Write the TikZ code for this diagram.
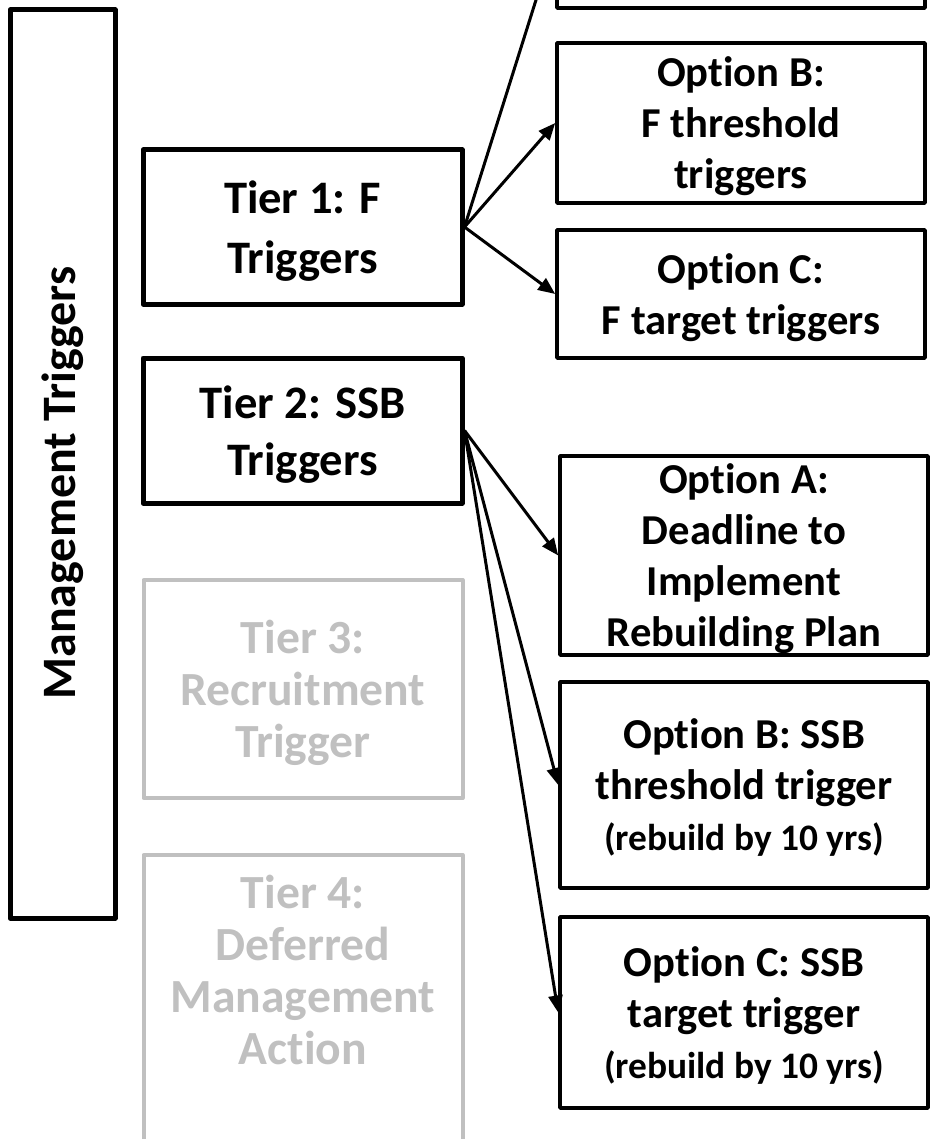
\documentclass[tikz,border=0pt]{standalone}
\usepackage{fontspec}
\setmainfont{Carlito}[Ligatures=NoCommon]
\usetikzlibrary{arrows.meta,positioning}
\definecolor{tiergrey}{RGB}{192,192,192}
\newcommand{\yrsnote}[1]{{\fontsize{18.7}{23}\selectfont #1}}

\begin{document}
\begin{tikzpicture}[x=0.5pt, y=-0.5pt,
  tierbox/.style={draw, line width=2.5pt, line join=round, inner sep=0pt, align=center,
    text depth=0pt, minimum width=159.5pt, font=\bfseries\fontsize{23.3}{28.5}\selectfont},
  greybox/.style={tierbox, draw=tiergrey, text=tiergrey, line width=2pt,
    font=\bfseries\fontsize{23.8}{26}\selectfont},
  optbox/.style={draw, line width=1.8pt, line join=round, inner sep=0pt, align=center,
    text depth=0pt, minimum width=184pt, font=\bfseries\fontsize{21.3}{25.5}\selectfont},
  arr/.style={-{Triangle[length=8.5pt, width=7pt]}, line width=1.5pt}]
  \useasboundingbox (0,0) rectangle (933,1139);
  \clip (0,0) rectangle (933,1139);

  % management column
  \node[tierbox, minimum width=52.5pt, minimum height=454pt] (mgmt) at (62.5,464) {};
  \node[rotate=90, font=\bfseries\fontsize{24}{29}\selectfont] (mgmtlabel) at (63,483) {Management Triggers};

  % tiers
  \node[tierbox, minimum height=77pt, font=\bfseries\fontsize{23.3}{30}\selectfont] (tier1) at (302.5,227) {Tier 1: F\\Triggers};
  \node[tierbox, minimum height=72.5pt] (tier2) at (302.5,430.5) {Tier 2: SSB\\Triggers};
  \node[greybox, minimum height=109pt] (tier3) at (303,689) {Tier 3:\\Recruitment\\Trigger};
  \node[greybox, anchor=north, minimum height=170pt] (tier4) at (303,853) {};
  \node[greybox, draw=none] (tier4text) at (303,970) {Tier 4:\\Deferred\\Management\\Action};

  % F options
  \node[optbox, minimum height=69pt] (optAF) at (741,-61) {};
  \node[optbox, minimum height=80pt] (optBF) at (741,123) {Option B:\\F threshold\\triggers};
  \node[optbox, minimum height=64pt] (optCF) at (741,294) {Option C:\\F target triggers};

  % SSB options
  \node[optbox, minimum height=99.5pt] (optAS) at (744,555.5) {Option A:\\Deadline to\\Implement\\Rebuilding Plan};
  \node[optbox, minimum height=103pt] (optBS) at (744,785) {Option B: SSB\\threshold trigger\\\yrsnote{(rebuild by 10 yrs)}};
  \node[optbox, minimum height=95.5pt] (optCS) at (744,1012.5) {Option C: SSB\\target trigger\\\yrsnote{(rebuild by 10 yrs)}};

  % arrows
  \foreach \o in {optAF, optBF, optCF} {
    \draw[arr] (tier1.east) -- (\o.west);
  }
  \foreach \o in {optAS, optBS, optCS} {
    \draw[arr] (tier2.east) -- (\o.west);
  }
\end{tikzpicture}
\end{document}
